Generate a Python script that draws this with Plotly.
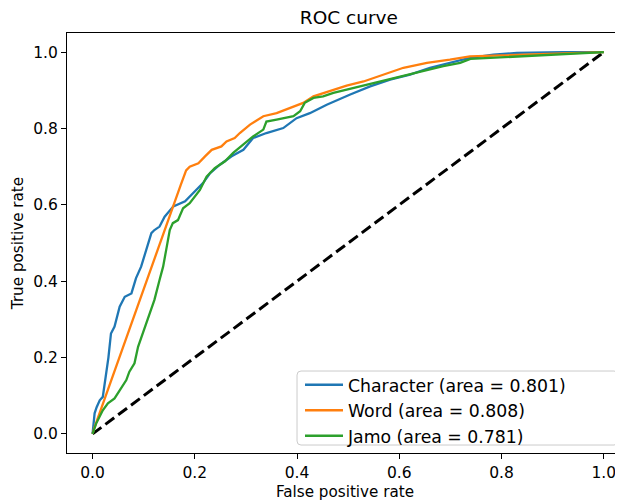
import plotly.graph_objects as go

char_fpr = [0.0, 0.002, 0.004, 0.008, 0.014, 0.02, 0.027, 0.031, 0.036, 0.043, 0.053, 0.063, 0.076, 0.085,
            0.095, 0.105, 0.115, 0.121, 0.131, 0.141, 0.158, 0.181, 0.197, 0.216, 0.230, 0.249, 0.272, 0.295,
            0.314, 0.340, 0.373, 0.399, 0.425, 0.458, 0.504, 0.543, 0.582, 0.621, 0.660, 0.699, 0.738, 0.784,
            0.830, 0.92, 1.0]
char_tpr = [0.0, 0.03, 0.054, 0.07, 0.088, 0.097, 0.158, 0.2, 0.263, 0.281, 0.333, 0.359, 0.368, 0.408,
            0.438, 0.482, 0.526, 0.534, 0.543, 0.569, 0.596, 0.609, 0.631, 0.657, 0.683, 0.705, 0.727, 0.744,
            0.775, 0.788, 0.801, 0.827, 0.840, 0.862, 0.889, 0.910, 0.928, 0.941, 0.959, 0.972, 0.985, 0.993,
            0.998, 1.0, 1.0]

word_fpr = [0.0, 0.004, 0.172, 0.177, 0.183, 0.19, 0.207, 0.220, 0.233, 0.252, 0.262, 0.278, 0.288, 0.308,
            0.334, 0.360, 0.386, 0.412, 0.432, 0.464, 0.497, 0.530, 0.569, 0.608, 0.654, 0.699, 0.738, 1.0]
word_tpr = [0.0, 0.018, 0.650, 0.670, 0.690, 0.700, 0.709, 0.727, 0.744, 0.753, 0.766, 0.775, 0.788, 0.810,
            0.832, 0.840, 0.854, 0.867, 0.884, 0.897, 0.912, 0.923, 0.941, 0.959, 0.972, 0.980, 0.989, 1.0]

jamo_fpr = [0.0, 0.007, 0.02, 0.03, 0.043, 0.053, 0.066, 0.072, 0.082, 0.089, 0.098, 0.108, 0.121, 0.131,
            0.138, 0.144, 0.151, 0.157, 0.167, 0.177, 0.190, 0.210, 0.223, 0.239, 0.259, 0.275, 0.295, 0.314,
            0.334, 0.340, 0.360, 0.393, 0.406, 0.415, 0.432, 0.451, 0.471, 0.504, 0.536, 0.575, 0.614, 0.654,
            0.686, 0.719, 0.739, 1.0]
jamo_tpr = [0.0, 0.027, 0.062, 0.080, 0.093, 0.115, 0.141, 0.163, 0.185, 0.228, 0.263, 0.298, 0.351, 0.403,
            0.438, 0.482, 0.534, 0.552, 0.560, 0.591, 0.604, 0.639, 0.674, 0.696, 0.714, 0.736, 0.757, 0.779,
            0.797, 0.818, 0.823, 0.832, 0.845, 0.867, 0.880, 0.884, 0.893, 0.904, 0.915, 0.928, 0.941, 0.954,
            0.963, 0.972, 0.982, 1.0]

chance_x = [0.0, 1.0]
chance_y = [0.0, 1.0]

series_names = ["Character (area = 0.801)", "Word (area = 0.808)", "Jamo (area = 0.781)"]
series_colors = ["#1f77b4", "#ff7f0e", "#2ca02c"]
tick_vals = [0.0, 0.2, 0.4, 0.6, 0.8, 1.0]
tick_text = ["0.0", "0.2", "0.4", "0.6", "0.8", "1.0"]

FONT = "DejaVu Sans"
TXT = "black"

fig = go.Figure()
fig.add_trace(go.Scatter(x=chance_x, y=chance_y, mode="lines", showlegend=False,
                         line=dict(color="black", width=3, dash="11px,5px")))
for name, xs, ys, col in zip(series_names, [char_fpr, word_fpr, jamo_fpr],
                             [char_tpr, word_tpr, jamo_tpr], series_colors):
    fig.add_trace(go.Scatter(x=xs, y=ys, mode="lines", name=name,
                             line=dict(color=col, width=2.3)))

# legend frame (rounded box like matplotlib), in paper coordinates
W, H = 556.0, 420.0
x0, x1, y0, y1 = 0.4137, 0.991, 0.019, 0.1952
dx, dy = 4 / W, 4 / H
frame = (f"M {x0+dx},{y0} L {x1-dx},{y0} Q {x1},{y0} {x1},{y0+dy} L {x1},{y1-dy} "
         f"Q {x1},{y1} {x1-dx},{y1} L {x0+dx},{y1} Q {x0},{y1} {x0},{y1-dy} "
         f"L {x0},{y0+dy} Q {x0},{y0} {x0+dx},{y0} Z")
fig.add_shape(type="path", path=frame, xref="paper", yref="paper",
              line=dict(color="#cccccc", width=1), fillcolor="rgba(255,255,255,0.8)", layer="above")

axis_common = dict(
    tickmode="array", tickvals=tick_vals, ticktext=tick_text,
    showgrid=False, zeroline=False, showline=True, linecolor="black", linewidth=1.2,
    ticks="outside", ticklen=5, tickwidth=1.2, tickcolor="black",
    tickfont=dict(family=FONT, size=15.5, color=TXT),
)
fig.update_layout(
    width=615, height=494,
    margin=dict(l=59, r=0, t=25, b=49, autoexpand=False),
    paper_bgcolor="white", plot_bgcolor="white",
    font=dict(family=FONT, size=15, color=TXT),
    title=dict(text="ROC curve", x=0.507, xref="paper", xanchor="center",
               y=1 - 9.5 / 494, yref="container", yanchor="middle",
               font=dict(family=FONT, size=18.5, color=TXT)),
    xaxis=dict(range=[-0.05, 1.0375], mirror=True,
               title=dict(text="False positive rate", standoff=5,
                          font=dict(family=FONT, size=15.2, color=TXT)),
               **axis_common),
    yaxis=dict(range=[-0.05, 1.05], mirror=False,
               title=dict(text="True positive rate", standoff=5,
                          font=dict(family=FONT, size=15.2, color=TXT)),
               **axis_common),
    legend=dict(x=(300 - 67) / W, y=0.2047, xanchor="left", yanchor="top",
                bgcolor="rgba(0,0,0,0)", borderwidth=0, itemwidth=38,
                font=dict(family=FONT, size=17.3, color=TXT), tracegroupgap=0),
)
fig.write_html("out.html")
